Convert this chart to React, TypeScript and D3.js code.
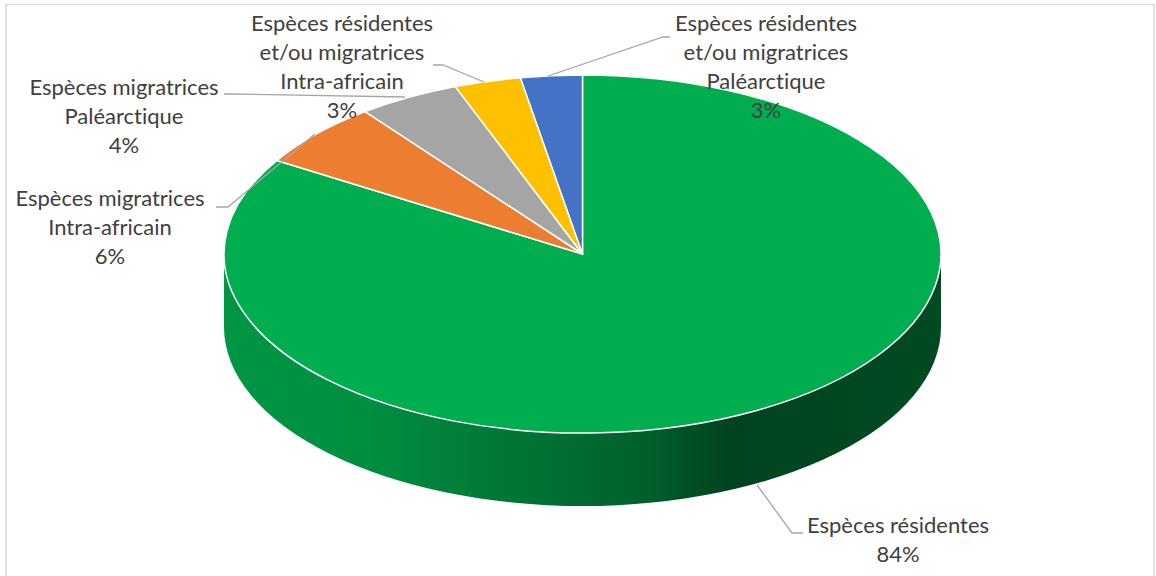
import React from "react";
import * as d3 from "d3";

const categories = [
  ["Espèces résidentes"],
  ["Espèces migratrices", "Intra-africain"],
  ["Espèces migratrices", "Paléarctique"],
  ["Espèces résidentes", "et/ou migratrices", "Intra-africain"],
  ["Espèces résidentes", "et/ou migratrices", "Paléarctique"],
];
const shares = [83.75, 5.89, 4.6, 3.0, 2.77];
const percentLabels = ["84%", "6%", "4%", "3%", "3%"];
const colors = ["#00AE50", "#ED7D31", "#A5A5A5", "#FFC000", "#4472C4"];
const labelCenters: [number, number][] = [[898, 526], [110, 199], [124, 88], [342, 24], [766, 24]];
const leaders: [number, number][][] = [
  [[757, 485], [792, 533], [803, 533]],
  [[315, 134], [228, 207], [216, 207]],
  [[405, 97], [232, 94], [224, 94]],
  [[484, 82], [443, 65], [433, 65]],
  [[548, 76], [663, 37], [670, 37]],
];
const sideStops: [number, string][] = [
  [0, "#009645"], [0.2, "#008E41"], [0.4, "#007636"], [0.6, "#005E2B"], [0.7, "#00441F"], [1, "#004A22"],
];

const W = 1156, H = 576;
const cx = 582.5, cy = 254, rx = 358.5, ry = 179, depth = 73;

export default function App() {
  const pie = d3.pie<number>().sort(null)(shares);
  const arc = d3.arc<d3.PieArcDatum<number>>().innerRadius(0).outerRadius(rx);
  const line = d3.line();
  const x = d3.scaleLinear().domain([0, 1]).range([cx - rx, cx + rx]);
  const side = `M${x(0)},${cy} L${x(0)},${cy + depth} A${rx},${ry} 0 0 0 ${x(1)},${cy + depth} L${x(1)},${cy} A${rx},${ry} 0 0 1 ${x(0)},${cy} Z`;
  return (
    <svg width={W} height={H} style={{ position: "absolute", left: 0, top: 0, display: "block" }}>
      <defs>
        <linearGradient id="sideGrad" gradientUnits="userSpaceOnUse" x1={x(0)} x2={x(1)} y1={0} y2={0}>
          {sideStops.map(([o, c]) => <stop key={o} offset={o} stopColor={c} />)}
        </linearGradient>
      </defs>
      <rect width={W} height={H} fill="#fff" />
      <rect x={6} y={4.5} width={1148} height={H} fill="#fff" stroke="#D9D9D9" strokeWidth={1.5} />
      <path d={side} fill="url(#sideGrad)" />
      <g transform={`translate(${cx},${cy}) scale(1,${ry / rx})`}>
        {pie.map((d, i) => (
          <path key={i} d={arc(d) ?? ""} fill={colors[i]} stroke="#fff" strokeWidth={1.5} vectorEffect="non-scaling-stroke" strokeLinejoin="round" />
        ))}
      </g>
      {leaders.map((pts, i) => (
        <path key={i} d={line(pts) ?? ""} fill="none" stroke="#A6A6A6" strokeWidth={1.3} />
      ))}
      {categories.map((lines, i) => (
        <text key={i} textAnchor="middle" fontFamily="Lato, 'Open Sans', sans-serif" fontSize={22} fill="#404040" style={{ fontVariantLigatures: "none" }}>
          {[...lines, percentLabels[i]].map((t, j) => (
            <tspan key={j} x={labelCenters[i][0]} y={labelCenters[i][1] + 7 + j * 29}>{t}</tspan>
          ))}
        </text>
      ))}
    </svg>
  );
}
